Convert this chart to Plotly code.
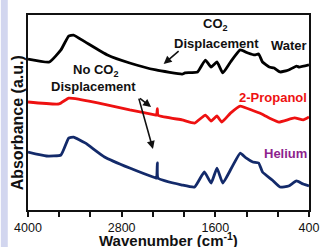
import plotly.graph_objects as go

# Wavenumber (cm^-1) and absorbance (a.u., offset)
water_w = [4000, 3727, 3578, 3479, 3417, 3268, 2982, 2697, 2361, 2026, 1989, 1828, 1728, 1654, 1579, 1505, 1406, 1281, 1182, 1095, 1045, 996, 909, 847, 772, 661, 561, 524, 400]
water_a = [7.74, 7.59, 8.21, 8.92, 8.97, 8.62, 7.95, 7.54, 7.18, 6.97, 7.03, 7.08, 7.69, 7.33, 7.59, 7.03, 7.59, 8.21, 8.05, 7.95, 8.00, 7.59, 7.33, 7.28, 7.08, 7.18, 7.38, 7.33, 7.44]

prop_w = [4000, 3603, 3479, 3355, 3107, 2697, 2361, 2352, 2343, 2334, 2026, 1865, 1728, 1654, 1580, 1517, 1406, 1281, 1120, 1033, 909, 785, 586, 474, 400]
prop_a = [5.54, 5.44, 5.74, 5.69, 5.49, 5.13, 4.87, 4.86, 5.20, 4.86, 4.62, 4.46, 4.87, 4.56, 4.82, 4.51, 4.97, 5.33, 5.10, 4.97, 4.72, 4.51, 4.72, 4.62, 4.77]

he_w = [4000, 3764, 3578, 3479, 3417, 3268, 3020, 2697, 2361, 2352, 2343, 2334, 2026, 1865, 1741, 1654, 1579, 1505, 1393, 1281, 1207, 1120, 1045, 996, 872, 772, 661, 561, 474, 400]
he_a = [2.97, 2.77, 2.82, 3.69, 3.74, 3.44, 2.72, 2.15, 1.64, 1.63, 2.41, 1.63, 1.28, 1.18, 1.95, 1.38, 2.15, 1.38, 2.15, 2.92, 2.67, 2.46, 2.41, 1.95, 1.54, 1.18, 1.23, 1.49, 1.33, 1.23]

tick_vals = [4000, 3600, 3200, 2800, 2400, 2000, 1600, 1200, 800, 400]
tick_text = ["4000", "", "", "2800", "", "", "1600", "", "", "400"]

FONT = "Liberation Sans, Arial, sans-serif"
INK = "#111111"

fig = go.Figure()
fig.add_trace(go.Scatter(x=water_w, y=water_a, mode="lines",
                         line=dict(color="#000000", width=2.8, shape="spline", smoothing=0.4)))
fig.add_trace(go.Scatter(x=prop_w, y=prop_a, mode="lines",
                         line=dict(color="#ee1111", width=2.8, shape="spline", smoothing=0.4)))
fig.add_trace(go.Scatter(x=he_w, y=he_a, mode="lines",
                         line=dict(color="#132a6a", width=2.8, shape="spline", smoothing=0.4)))

ann = dict(showarrow=False, font=dict(family=FONT, size=13, color=INK))
fig.add_annotation(x=1592, y=9.49, text="<b>CO<sub>2</sub></b>", **ann)
fig.add_annotation(x=1579, y=8.56, text="<b>Displacement</b>", **ann)
fig.add_annotation(x=400, y=8.46, xanchor="right", text="<b>Water</b>", **ann)
fig.add_annotation(x=3131, y=7.13, text="<b>No CO<sub>2</sub></b>", **ann)
fig.add_annotation(x=3156, y=6.31, text="<b>Displacement</b>", **ann)
fig.add_annotation(x=400, y=5.79, xanchor="right", text="<b>2-Propanol</b>",
                   showarrow=False, font=dict(family=FONT, size=13, color="#ee1111"))
fig.add_annotation(x=400, y=2.92, xanchor="right", text="<b>Helium</b>",
                   showarrow=False, font=dict(family=FONT, size=13, color="#8e1f8e"))

# axis titles placed as annotations for exact position
fig.add_annotation(xref="paper", yref="paper", x=0.5, y=-0.15, xanchor="center", yanchor="middle",
                   text="<b>Wavenumber (cm<sup>-1</sup>)</b>", showarrow=False,
                   font=dict(family=FONT, size=15, color=INK))
fig.add_annotation(xref="paper", yref="paper", x=-0.038, y=0.446, textangle=-90,
                   xanchor="center", yanchor="middle",
                   text="<b>Absorbance (a.u.)</b>", showarrow=False,
                   font=dict(family=FONT, size=16, color=INK))

arr = dict(showarrow=True, arrowhead=2, arrowsize=1, arrowwidth=1.6, arrowcolor=INK,
           axref="x", ayref="y", text="")
fig.add_annotation(x=2262, y=7.49, ax=2051, ay=8.21, **arr)
fig.add_annotation(x=2423, y=5.28, ax=2585, ay=5.79, **arr)
fig.add_annotation(x=2399, y=3.13, ax=2585, ay=5.79, **arr)

fig.add_shape(type="rect", xref="paper", yref="paper", x0=-0.0966, x1=-0.072, y0=-0.2, y1=1.08,
              fillcolor="#d2d6ef", line=dict(width=0), layer="below")

fig.update_layout(
    width=331, height=247,
    margin=dict(l=28, r=13, t=15, b=37),
    paper_bgcolor="white", plot_bgcolor="white",
    showlegend=False,
    font=dict(family=FONT, color=INK),
    xaxis=dict(range=[4000, 400], tickvals=tick_vals, ticktext=tick_text, tickangle=0,
               ticks="outside", ticklen=5, tickwidth=2, tickcolor=INK,
               showline=True, linewidth=2, linecolor=INK, mirror=True,
               showgrid=False, zeroline=False,
               tickfont=dict(family=FONT, size=12.5, color=INK)),
    yaxis=dict(range=[0, 10], showticklabels=False, ticks="",
               showline=True, linewidth=2, linecolor=INK, mirror=True,
               showgrid=False, zeroline=False),
)
fig.write_html("out.html", config={"displayModeBar": False},
               post_script="document.body.style.margin='0';")
